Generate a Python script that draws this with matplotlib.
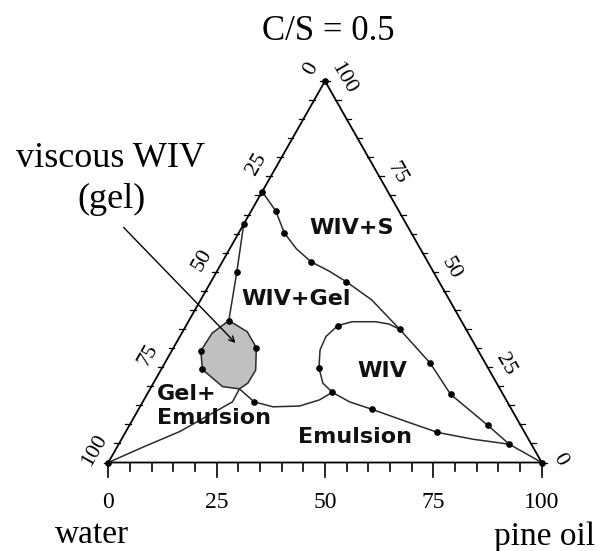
import numpy as np
import matplotlib
matplotlib.use("Agg")
import matplotlib.pyplot as plt

# ternary data: (pine oil %, surfactant %) ; water = 100 - oil - surf
wivs_oil = [0, 5.7, 10.5, 15.4, 20.5, 25.8, 31.2, 39.5, 49.8, 61.3, 70.0, 82.6, 90.1, 100]
wivs_surf = [71.0, 65.9, 60.2, 56.0, 52.6, 50.2, 47.4, 42.6, 34.9, 26.0, 17.9, 9.8, 4.8, 0]

wiv_oil = [49.8, 46.6, 43.2, 37.8, 35.0, 33.7, 34.1, 36.2, 39.1, 42.5]
wiv_surf = [34.9, 36.3, 36.9, 36.9, 35.9, 33.0, 29.5, 24.8, 20.8, 18.4]

low_oil = [42.5, 47.7, 54.0, 63.5, 72.0, 81.1, 90.1]
low_surf = [18.4, 15.9, 13.9, 10.7, 7.9, 6.1, 4.8]

emu_oil = [20.6, 25.7, 30.7, 36.7, 40.5, 42.5]
emu_surf = [19.3, 15.9, 14.6, 14.8, 16.4, 18.4]

gelemu_oil = [20.6, 20.7, 15.6, 12.4, 6.1, 0]
gelemu_surf = [19.3, 15.9, 11.1, 8.1, 4.1, 0]

gel_oil = [9.2, 14.9, 19.1, 21.9, 21.8, 20.6, 16.4, 9.5, 6.7, 7.0]
gel_surf = [37.2, 34.3, 30.1, 24.2, 20.8, 19.3, 19.9, 24.4, 29.3, 33.9]

wivgel_oil = [9.2, 4.7, 0]
wivgel_surf = [37.2, 49.9, 62.5]

# experimental points (dots)
dot_oil = [0, 5.7, 10.5, 20.5, 31.2, 49.8, 61.3, 70.0, 82.6, 90.1, 100,
           35.0, 36.2, 42.5, 54.0, 72.0, 25.7,
           9.2, 19.1, 9.5, 6.7, 4.7, 0, 0, 0]
dot_surf = [71.0, 65.9, 60.2, 52.6, 47.4, 34.9, 26.0, 17.9, 9.8, 4.8, 0,
            35.9, 24.8, 18.4, 13.9, 7.9, 15.9,
            37.2, 30.1, 24.4, 29.3, 49.9, 62.5, 0, 100]

ticks = list(range(0, 101, 25))
tick_labels = [str(t) for t in ticks]

H = np.sqrt(3) / 2


def tern(oil, surf):
    oil = np.asarray(oil, dtype=float)
    surf = np.asarray(surf, dtype=float)
    return oil + surf / 2, surf * H


plt.rcParams['font.family'] = ['Liberation Serif', 'DejaVu Serif']
fig = plt.figure(figsize=(6.02, 5.51), dpi=100)
ax = fig.add_axes([0.1799, 0.1606, 0.720, 0.6924])
ax.set_xlim(0, 100)
ax.set_ylim(0, 100 * H)
ax.axis('off')

lc = '#2a2a2a'
# triangle
tx, ty = tern([0, 100, 0, 0], [0, 0, 100, 0])
ax.plot(tx, ty, color='black', lw=1.3, clip_on=False)

# bottom ticks (pine oil)
for v in range(0, 101, 5):
    ln = 3.4 if v % 25 == 0 else 1.9
    ax.plot([v, v], [0, -ln], color='black', lw=1.2, clip_on=False)
# left edge ticks (water) and right edge ticks (surfactant)
for v in range(0, 101, 5):
    lx, ly = tern(0, 100 - v)
    ax.plot([lx - 1.1, lx + 0.2], [ly, ly], color='black', lw=0.9, clip_on=False)
    rx, ry = tern(100 - v, v)
    ax.plot([rx - 0.2, rx + 1.1], [ry, ry], color='black', lw=0.9, clip_on=False)

for t, lab in zip(ticks, tick_labels):
    ax.text(t, -9.0, lab, ha='center', va='center', fontsize=17, clip_on=False)
    lx, ly = tern(0, 100 - t)
    ax.text(lx - 3.2, ly + 2.7, lab, ha='center', va='center', fontsize=16,
            rotation=60, clip_on=False)
    rx, ry = tern(100 - t, t)
    ax.text(rx + 4.2, ry + 0.7, lab, ha='center', va='center', fontsize=16,
            rotation=-60, clip_on=False)

# gel region
gx, gy = tern(gel_oil, gel_surf)
ax.fill(gx, gy, facecolor='#c0c0c0', edgecolor=lc, lw=1.1)

for o, s in [(wivs_oil, wivs_surf), (wiv_oil, wiv_surf), (low_oil, low_surf),
             (emu_oil, emu_surf), (gelemu_oil, gelemu_surf), (wivgel_oil, wivgel_surf)]:
    x, y = tern(o, s)
    ax.plot(x, y, color=lc, lw=1.1, clip_on=False)

dx, dy = tern(dot_oil, dot_surf)
ax.plot(dx, dy, 'o', color='black', ms=3.8, clip_on=False)

# region labels
bold = dict(family='DejaVu Sans', fontweight='bold', fontsize=16, color='#111111')
ax.text(56.2, 53.2, 'WIV+S', ha='center', va='center', **bold)
ax.text(43.3, 37.1, 'WIV+Gel', ha='center', va='center', **bold)
ax.text(63.1, 20.8, 'WIV', ha='center', va='center', **bold)
ax.text(11.2, 12.8, 'Gel+\nEmulsion', ha='left', va='center', linespacing=1.25, **bold)
ax.text(56.9, 5.8, 'Emulsion', ha='center', va='center', **bold)

# annotation
ax.text(50.7, 97.9, 'C/S = 0.5', ha='center', va='center', fontsize=25, clip_on=False)
ax.text(0.4, 69.1, 'viscous WIV', ha='center', va='center', fontsize=26, clip_on=False)
ax.text(0.85, 59.6, '(gel)', ha='center', va='center', fontsize=26, clip_on=False)
ax.annotate('', xy=tern(14.4, 30.8), xytext=(3.1, 53.8),
            arrowprops=dict(arrowstyle='->', color='black', lw=1.0,
                            mutation_scale=10), annotation_clip=False)

ax.text(-3.8, -16.5, 'water', ha='center', va='center', fontsize=24, clip_on=False)
ax.text(100.7, -16.9, 'pine oil', ha='center', va='center', fontsize=24, clip_on=False)

fig.savefig('out.png', dpi=100)
